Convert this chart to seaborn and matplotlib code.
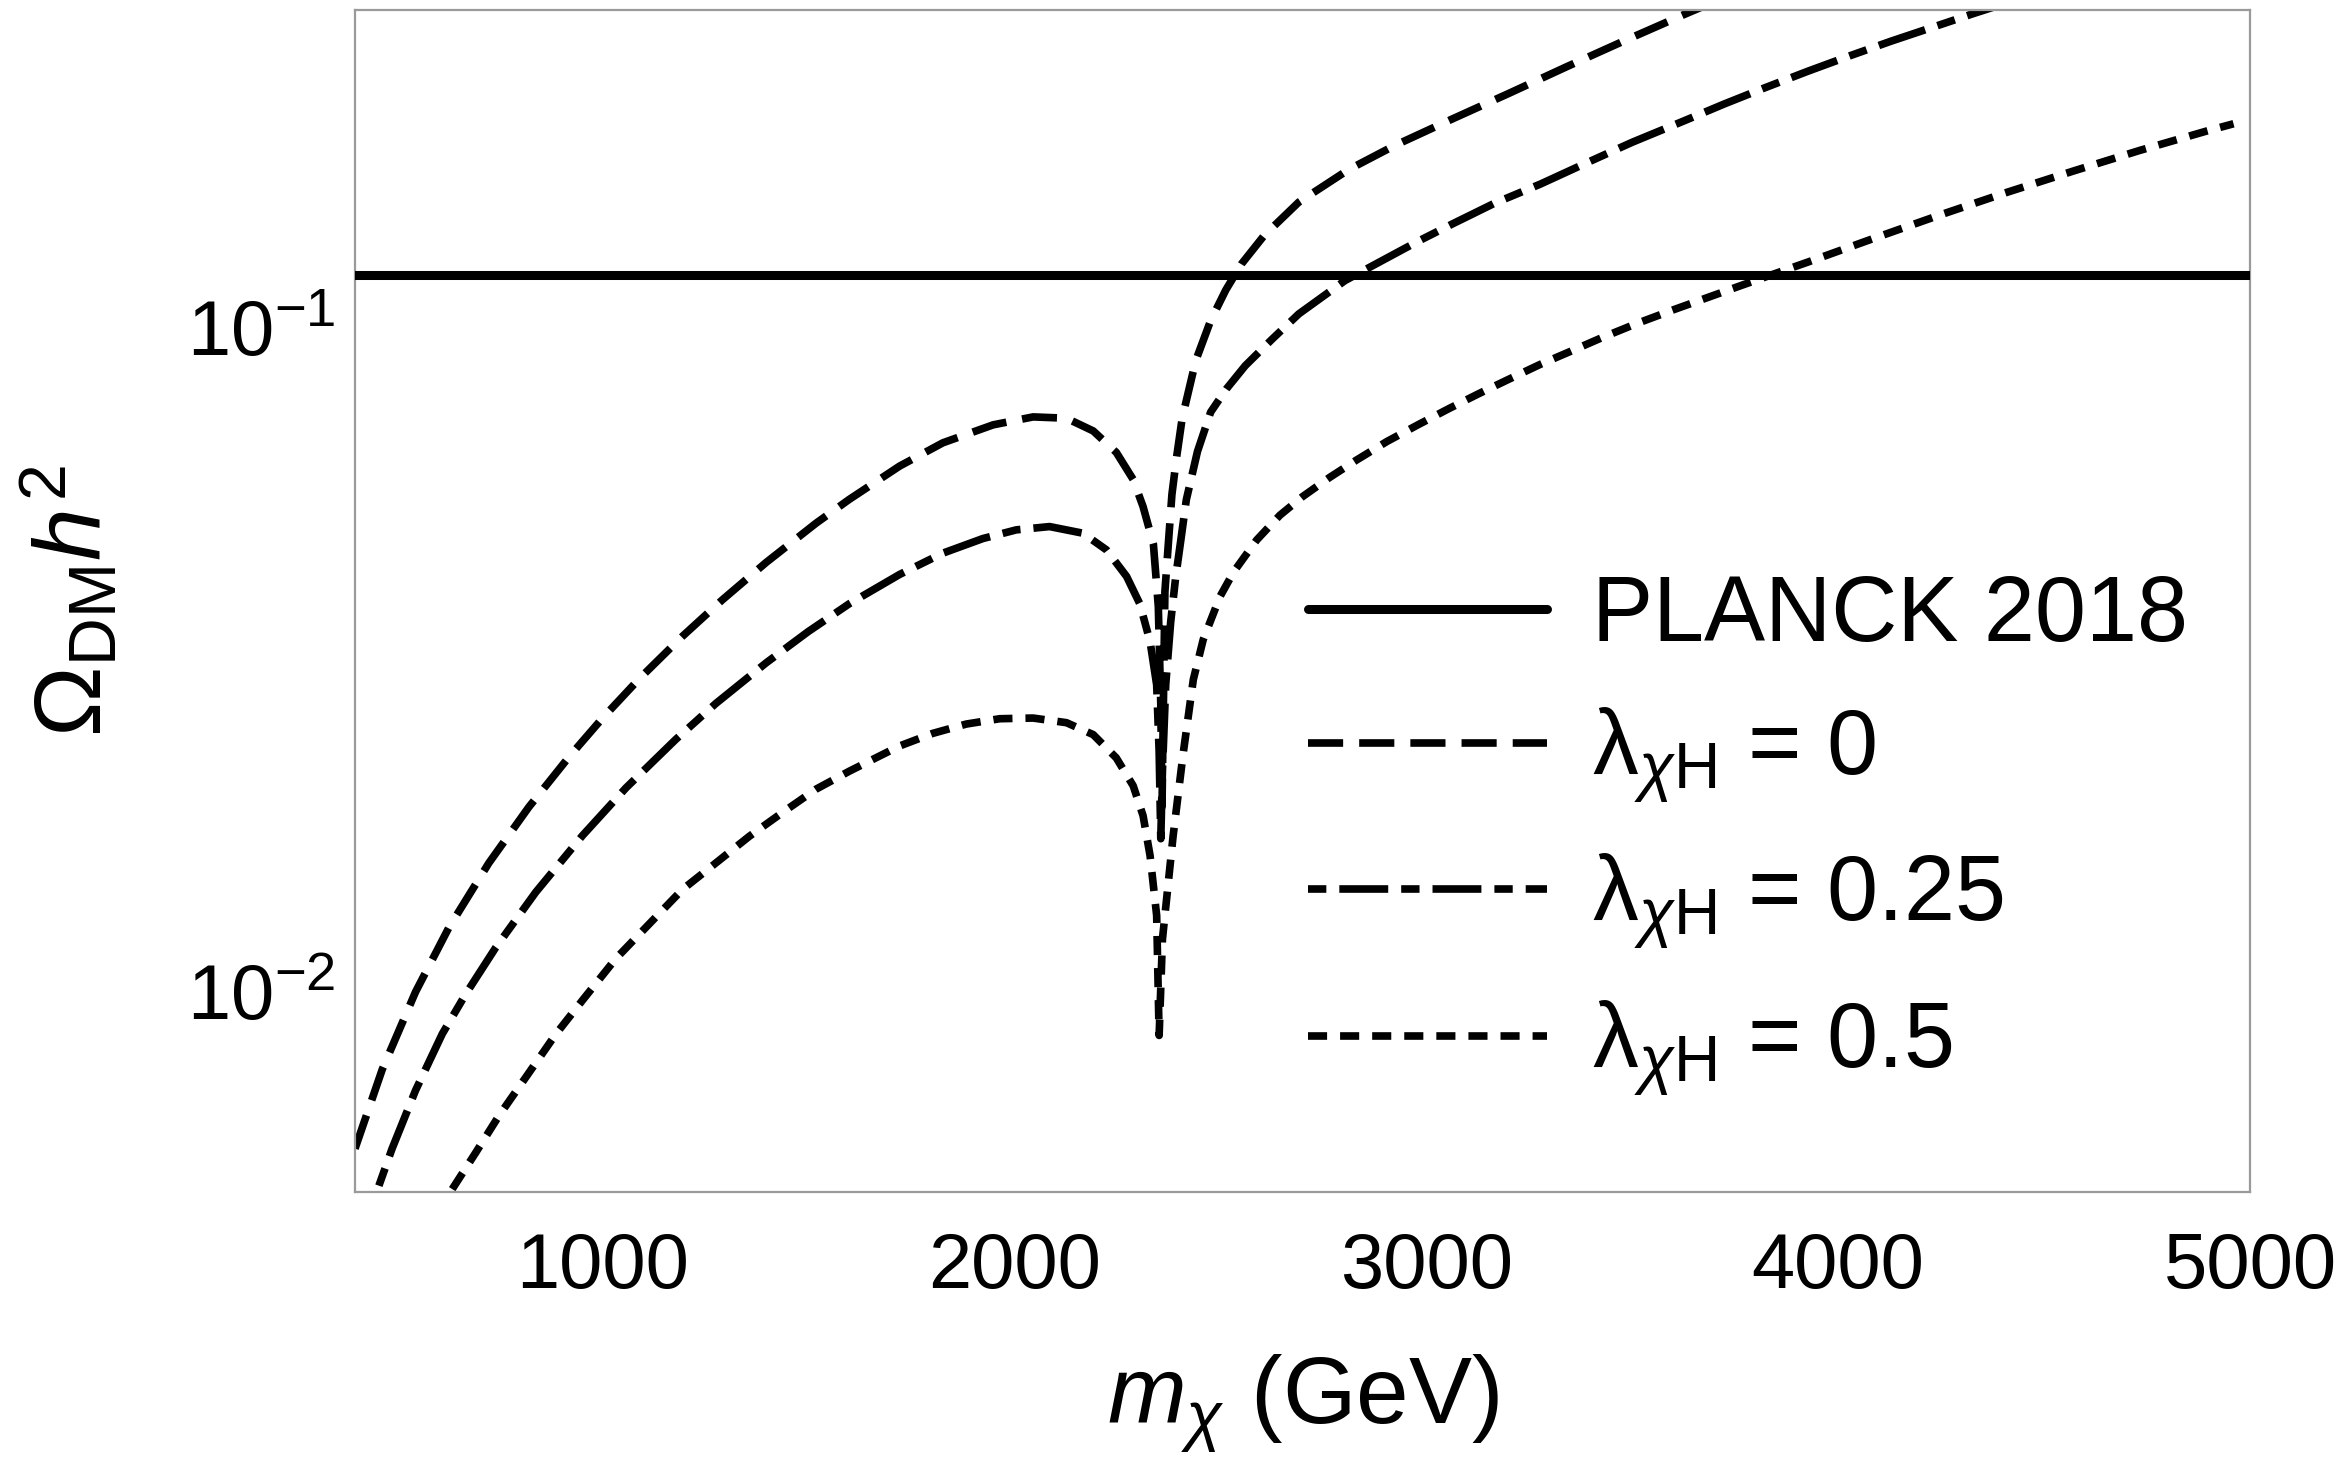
import numpy as np
import pandas as pd
import seaborn as sns
import matplotlib
matplotlib.use("Agg")
import matplotlib.pyplot as plt
from matplotlib.lines import Line2D
from matplotlib.ticker import NullLocator, FixedLocator

# ---------------- data ----------------
planck_value = 0.12

m_lam0 = [400, 466, 547, 628, 725, 822, 920, 1001, 1090, 1195, 1292, 1398, 1519, 1600,
          1722, 1827, 1949, 2046, 2127, 2192, 2248, 2289, 2313, 2338, 2350, 2356, 2359,
          2362, 2366, 2373, 2383, 2394, 2408, 2441, 2477, 2514, 2552, 2607, 2691, 2812,
          2923, 3063, 3202, 3342, 3482, 3625, 3720]
om_lam0 = [0.00581, 0.00764, 0.0100, 0.0125, 0.01563, 0.01897, 0.02259, 0.02582, 0.02958,
           0.03428, 0.0389, 0.04426, 0.0507, 0.05508, 0.0618, 0.06699, 0.07129, 0.07328,
           0.07295, 0.0698, 0.0648, 0.0590, 0.0537, 0.0472, 0.038, 0.027, 0.019, 0.026,
           0.040, 0.046, 0.056, 0.0635, 0.073, 0.0891, 0.1023, 0.1138, 0.1245, 0.1374,
           0.1542, 0.1726, 0.1875, 0.2056, 0.2249, 0.2466, 0.2698, 0.2951, 0.3126]

m_lam025 = [458, 490, 547, 612, 669, 742, 839, 952, 1058, 1179, 1276, 1398, 1500, 1600,
            1722, 1827, 1924, 2005, 2086, 2167, 2224, 2273, 2305, 2330, 2346, 2352, 2356,
            2360, 2368, 2380, 2392, 2405, 2418, 2445, 2477, 2515, 2561, 2626, 2691, 2803,
            2896, 2980, 3063, 3165, 3277, 3389, 3500, 3625, 3725, 3826, 3927, 4028, 4128,
            4229, 4330, 4420]
om_lam025 = [0.00511, 0.00581, 0.00711, 0.00865, 0.00993, 0.01167, 0.01413, 0.01718, 0.02028,
             0.02399, 0.02716, 0.03126, 0.03483, 0.03837, 0.04246, 0.04571, 0.04808, 0.04955,
             0.05012, 0.04898, 0.04624, 0.04217, 0.03837, 0.03365, 0.02897, 0.023, 0.017,
             0.0215, 0.029, 0.036, 0.042, 0.048, 0.055, 0.065, 0.0745, 0.0807, 0.0875,
             0.0959, 0.1047, 0.1175, 0.1262, 0.1346, 0.1429, 0.1535, 0.1641, 0.1766, 0.1897,
             0.2042, 0.2168, 0.2296, 0.2427, 0.2559, 0.2692, 0.2825, 0.2965, 0.309]

m_lam05 = [636, 693, 750, 814, 887, 952, 1033, 1114, 1195, 1276, 1357, 1438, 1519, 1600,
           1722, 1803, 1884, 1965, 2046, 2127, 2192, 2248, 2289, 2313, 2330, 2346, 2352,
           2360, 2386, 2410, 2435, 2459, 2500, 2533, 2589, 2645, 2700, 2766, 2831, 2905,
           2980, 3054, 3128, 3202, 3277, 3352, 3426, 3510, 3604, 3766, 3927, 4088, 4249,
           4411, 4572, 4733, 4894, 4960]
om_lam05 = [0.00505, 0.00573, 0.00652, 0.00743, 0.00863, 0.00971, 0.01122, 0.01265, 0.01426,
            0.01563, 0.01714, 0.01862, 0.02018, 0.02148, 0.02344, 0.02449, 0.02529, 0.02576,
            0.02582, 0.02541, 0.02438, 0.02249, 0.02042, 0.01841, 0.01603, 0.01303, 0.0086,
            0.0120, 0.01718, 0.02275, 0.02951, 0.03388, 0.03936, 0.04285, 0.04786, 0.05212,
            0.05559, 0.05943, 0.0631, 0.0673, 0.07129, 0.07534, 0.07943, 0.08356, 0.0879,
            0.09204, 0.09638, 0.1012, 0.1064, 0.1156, 0.1253, 0.1361, 0.1476, 0.1596,
            0.1718, 0.1845, 0.1972, 0.2023]

series_labels = [r"$\mathrm{\lambda}_{\chi\mathrm{H}}$ = 0",
                 r"$\mathrm{\lambda}_{\chi\mathrm{H}}$ = 0.25",
                 r"$\mathrm{\lambda}_{\chi\mathrm{H}}$ = 0.5"]
planck_label = "PLANCK 2018"
x_ticks = [1000, 2000, 3000, 4000, 5000]
y_ticks = [0.01, 0.1]

# ---------------- style ----------------
sns.set_theme(style="white")
plt.rcParams["font.family"] = ["Liberation Sans", "DejaVu Sans"]
plt.rcParams["mathtext.fontset"] = "custom"
plt.rcParams["mathtext.rm"] = "Liberation Sans"
plt.rcParams["mathtext.it"] = "Liberation Sans:italic"
plt.rcParams["mathtext.bf"] = "Liberation Sans:bold"
plt.rcParams["axes.unicode_minus"] = True
plt.rcParams["text.color"] = "black"
plt.rcParams["axes.labelcolor"] = "black"
plt.rcParams["xtick.labelcolor"] = "black"
plt.rcParams["ytick.labelcolor"] = "black"

frames = []
for lab, mm, oo in zip(series_labels, [m_lam0, m_lam025, m_lam05],
                       [om_lam0, om_lam025, om_lam05]):
    frames.append(pd.DataFrame({"m": mm, "omega": oo, "series": lab}))
df = pd.concat(frames, ignore_index=True)

dash_map = {
    series_labels[0]: (4.6, 2.1),
    series_labels[1]: (2.4, 1.7, 6.4, 1.7),
    series_labels[2]: (2.5, 1.7),
}

fig = plt.figure(figsize=(23.52, 14.7), dpi=100)
ax = fig.add_axes([355 / 2352, 1 - 1192 / 1470, 1895 / 2352, 1182 / 1470])

LW = 5.5
sns.lineplot(data=df, x="m", y="omega", style="series", dashes=dash_map,
             color="black", linewidth=LW, estimator=None, sort=False,
             legend=False, ax=ax)
ax.axhline(planck_value, color="black", linewidth=6.5, zorder=3)

ax.set_yscale("log")
ax.set_xlim(400, 5000)
ax.set_ylim(0.005, 0.30)
ax.xaxis.set_major_locator(FixedLocator(x_ticks))
ax.yaxis.set_major_locator(FixedLocator(y_ticks))
ax.xaxis.set_minor_locator(NullLocator())
ax.yaxis.set_minor_locator(NullLocator())

for sp in ax.spines.values():
    sp.set_color("#9a9a9a")
    sp.set_linewidth(1.6)

ax.tick_params(axis="both", which="major", direction="in", length=16.5, width=1.4,
               color="#777777", labelcolor="black", labelsize=56,
               top=False, right=False)
ax.tick_params(axis="x", pad=28)
ax.tick_params(axis="y", pad=14)

ax.set_xlabel(r"$m_\chi$ (GeV)", fontsize=68, color="black")
ax.set_ylabel(r"$\Omega_{\mathrm{DM}}h^2$", fontsize=68, color="black")
ax.xaxis.set_label_coords(0.5, -0.135)
ax.yaxis.set_label_coords(-0.123, 0.5)

handles = [Line2D([], [], color="black", linewidth=6.5)]
for lab in series_labels:
    handles.append(Line2D([], [], color="black", linewidth=LW, dashes=dash_map[lab]))
labels = [planck_label] + series_labels
leg = ax.legend(handles, labels, loc="upper left", bbox_to_anchor=(0.503, 0.523),
                frameon=False, fontsize=66, handlelength=2.6, handletextpad=0.5,
                labelspacing=0.5, borderpad=0, borderaxespad=0)
for t in leg.get_texts():
    t.set_color("black")

fig.savefig("out.png", dpi=100, facecolor="white")
